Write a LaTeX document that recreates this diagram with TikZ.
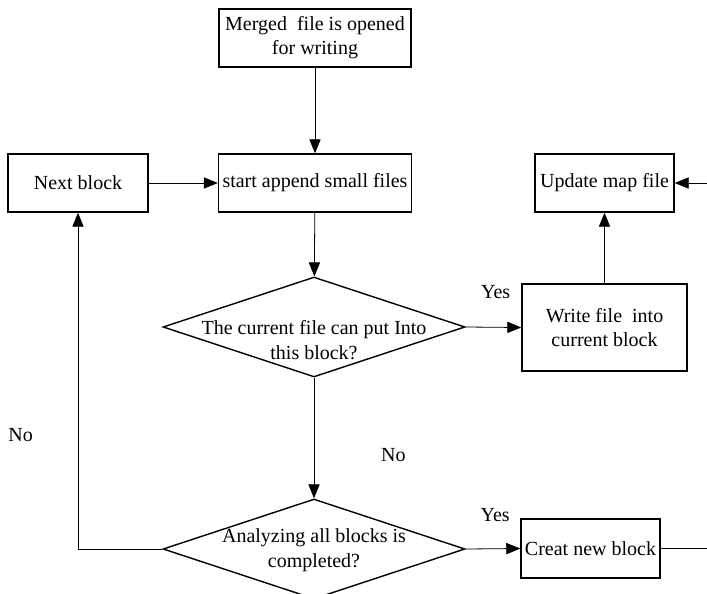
\documentclass[tikz,border=0pt]{standalone}
\usepackage{fontspec}
\setmainfont{Liberation Serif}
\usetikzlibrary{arrows.meta,shapes.geometric,positioning}
\tikzset{
	->,
	>={Triangle[length=7pt,width=5.6pt]},
	line width=0.9pt,
	every node/.style={font=\fontsize{10}{12}\selectfont},
	block/.style={draw, rectangle, align=center, inner sep=2pt, line width=0.7pt},
	decision/.style={draw, diamond, aspect=3, inner sep=0pt, line width=0.7pt,
		minimum width=151pt, minimum height=50pt},
}
% text of a decision may run over the diamond's sides
\newcommand{\dtext}[2]{\makebox[0pt]{\smash{\raisebox{#1}{\renewcommand{\arraystretch}{1.05}\begin{tabular}{@{}c@{}}#2\end{tabular}}}}}

\begin{document}
\begin{tikzpicture}[x=0.5pt, y=-0.5pt]
		\useasboundingbox (0,0) rectangle (707,594);

		\node[block, minimum width=96pt, minimum height=29pt] (merged) at (315,38) {Merged\ \ file is opened\\for writing};
		\node[block, minimum width=96pt, minimum height=29pt] (start) at (315,183) {start append small files};
		\node[block, minimum width=70pt, minimum height=29pt] (next) at (78,183) {Next block};
		\node[block, minimum width=69.5pt, minimum height=29pt] (update) at (604.5,183) {Update map file};
		\node[decision] (dec1) at (314,327) {\dtext{-10pt}{The current file can put Into\\this block?}};
		\node[block, minimum width=82.5pt, minimum height=43.5pt] (write) at (604.5,327.5) {Write file\ \ into\\current block};
		\node[decision] (dec2) at (314,549) {\dtext{-3pt}{Analyzing all blocks is\\completed?}};
		\node[block, minimum width=69.5pt, minimum height=29.5pt] (creat) at (590.5,548.5) {Creat new block};
		\coordinate (mapin) at (707,183);
		\coordinate (newout) at (707,548.5);

		\draw (merged) -- (start);
		\draw (next) -- (start);
		\draw (start) -- (dec1);
		\draw (dec1.east) -- node[pos=0.54, above=11pt]{Yes} (write.west);
		\draw (write) -- (update);
		\draw (mapin) -- (update);
		\draw (dec1) -- node[pos=0.645, right=30pt]{No} (dec2);
		\draw (dec2.west) -| node[pos=0.67, left=19pt]{No} (next.south);
		\draw (dec2.east) -- node[pos=0.54, above=10pt]{Yes} (creat.west);
		\draw[-] (creat) -- (newout);
	\end{tikzpicture}
\end{document}
